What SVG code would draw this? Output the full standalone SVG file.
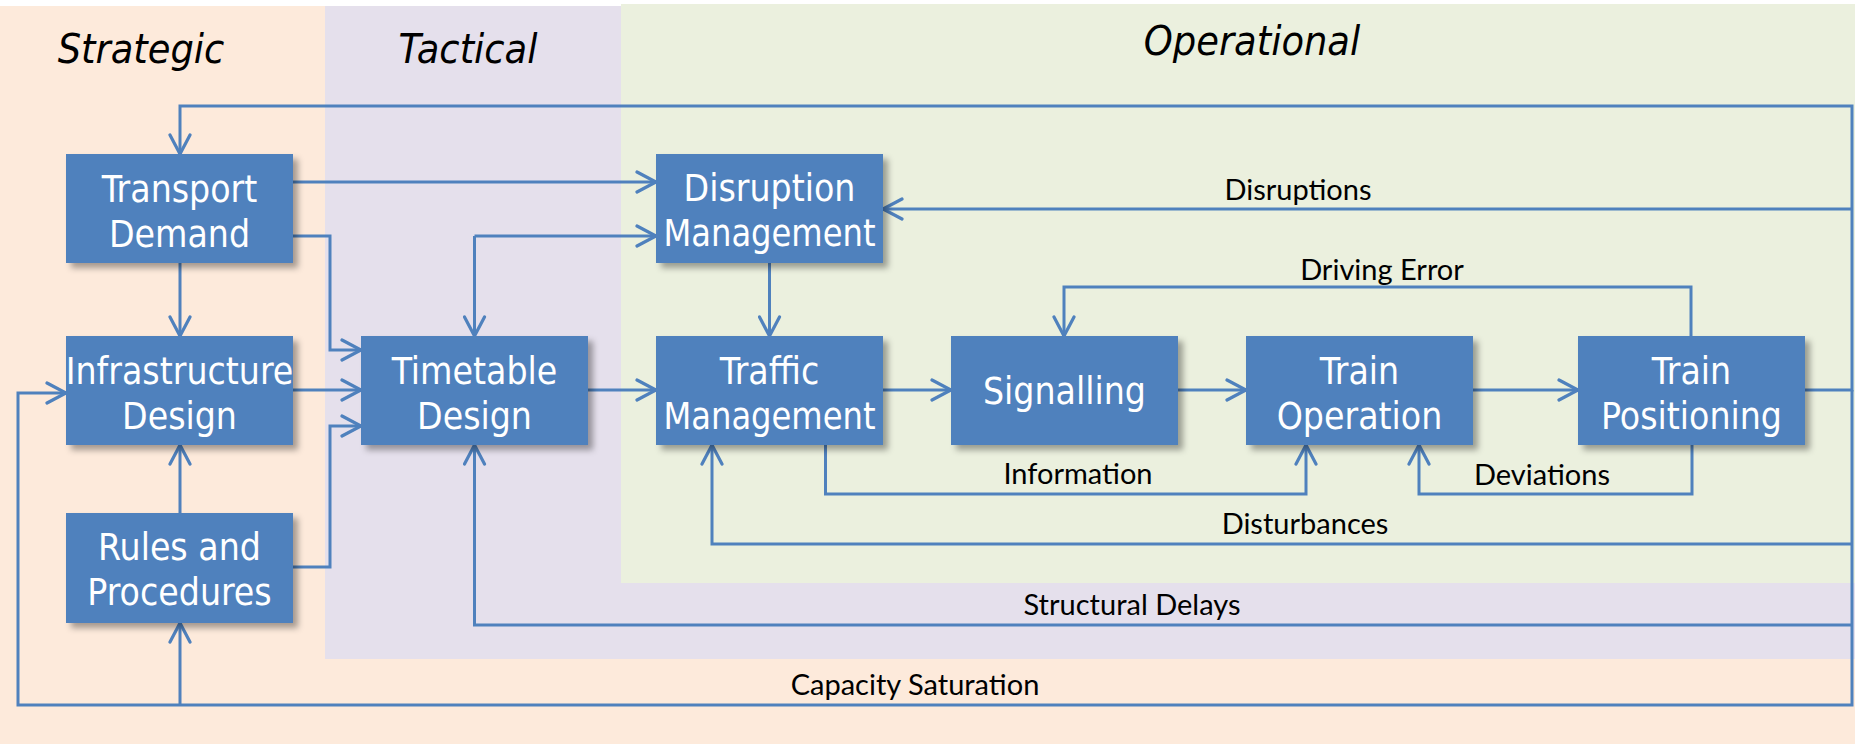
<svg xmlns="http://www.w3.org/2000/svg" width="1855" height="744" viewBox="0 0 1855 744">
<defs>
<style>
.box{fill:#4F81BD;filter:url(#sh)}
.bt{fill:#fff;font-family:"DejaVu Sans Condensed","DejaVu Sans",sans-serif;font-stretch:condensed;font-size:37px;text-anchor:middle}
.hd{fill:#000;font-family:"DejaVu Sans Condensed","DejaVu Sans",sans-serif;font-stretch:condensed;font-style:italic;font-size:41px;text-anchor:middle}
.lb{fill:#000;font-family:Lato,"Open Sans",sans-serif;font-size:29px;text-anchor:middle}
.cn path{fill:none;stroke:#4F81BD;stroke-width:3}
.ar{marker-end:url(#ah)}
</style>
<filter id="sh" x="-10%" y="-10%" width="130%" height="130%">
<feDropShadow dx="5" dy="5" stdDeviation="3" flood-color="#000" flood-opacity="0.35"/>
</filter>
<marker id="ah" markerUnits="userSpaceOnUse" viewBox="-22 -12 24 24" refX="0" refY="0" markerWidth="24" markerHeight="24" orient="auto">
<path d="M-19,-10 L0,0 L-19,10" fill="none" stroke="#4F81BD" stroke-width="3.2" stroke-linecap="round" stroke-linejoin="miter"/>
</marker>
</defs>
<rect x="0" y="0" width="1855" height="744" fill="#fff"/>
<g id="regions">
<rect x="0" y="6" width="1855" height="738" fill="#FDEADB"/>
<rect x="325" y="6" width="1530" height="653" fill="#E5E0EC"/>
<rect x="621" y="4" width="1234" height="579" fill="#EBF0DE"/>
<text class="hd" x="141" y="63">Strategic</text>
<text class="hd" x="468" y="63">Tactical</text>
<text class="hd" x="1252" y="55">Operational</text>
</g>
<g id="connectors" class="cn">
<path d="M1805,390 H1852 V106 H180 V154" class="ar"/>
<path d="M1852,209 H883" class="ar"/>
<path d="M1852,390 V705 H18 V393 H66" class="ar"/>
<path d="M180,705 V623" class="ar"/>
<path d="M1852,544 H712 V445" class="ar"/>
<path d="M1852,625 H474.5 V445" class="ar"/>
<path d="M293,182 H656" class="ar"/>
<path d="M293,236 H330 V350 H361" class="ar"/>
<path d="M474.5,236 H656" class="ar"/>
<path d="M474.5,236 V336" class="ar"/>
<path d="M180,263 V336" class="ar"/>
<path d="M293,390 H361" class="ar"/>
<path d="M180,513 V445" class="ar"/>
<path d="M293,567 H330 V426 H361" class="ar"/>
<path d="M769.5,263 V336" class="ar"/>
<path d="M588,390 H656" class="ar"/>
<path d="M883,390 H951" class="ar"/>
<path d="M1177,390 H1246" class="ar"/>
<path d="M1473,390 H1578" class="ar"/>
<path d="M1691,336 V287 H1064 V336" class="ar"/>
<path d="M825.5,445 V494 H1306 V445" class="ar"/>
<path d="M1692,445 V494 H1419 V445" class="ar"/>
<text class="lb" x="1298" y="200">Disruptions</text>
<text class="lb" x="1382" y="280">Driving Error</text>
<text class="lb" x="1078" y="484">Information</text>
<text class="lb" x="1542" y="485">Deviations</text>
<text class="lb" x="1305" y="534">Disturbances</text>
<text class="lb" x="1132" y="615">Structural Delays</text>
<text class="lb" x="915" y="695">Capacity Saturation</text>
</g>
<g id="transport-demand">
<rect class="box" x="66" y="154" width="227" height="109"/>
<text class="bt" x="179.5" y="202">Transport</text>
<text class="bt" x="179.5" y="247">Demand</text>
</g>
<g id="infrastructure-design">
<rect class="box" x="66" y="336" width="227" height="109"/>
<text class="bt" x="179.5" y="384">Infrastructure</text>
<text class="bt" x="179.5" y="429">Design</text>
</g>
<g id="rules-procedures">
<rect class="box" x="66" y="513" width="227" height="110"/>
<text class="bt" x="179.5" y="560">Rules and</text>
<text class="bt" x="179.5" y="605">Procedures</text>
</g>
<g id="timetable-design">
<rect class="box" x="361" y="336" width="227" height="109"/>
<text class="bt" x="474.5" y="384">Timetable</text>
<text class="bt" x="474.5" y="429">Design</text>
</g>
<g id="disruption-management">
<rect class="box" x="656" y="154" width="227" height="109"/>
<text class="bt" x="769.5" y="201">Disruption</text>
<text class="bt" x="769.5" y="246" textLength="212" lengthAdjust="spacingAndGlyphs">Management</text>
</g>
<g id="traffic-management">
<rect class="box" x="656" y="336" width="227" height="109"/>
<text class="bt" x="769.5" y="384">Traffic</text>
<text class="bt" x="769.5" y="429" textLength="212" lengthAdjust="spacingAndGlyphs">Management</text>
</g>
<g id="signalling">
<rect class="box" x="951" y="336" width="227" height="109"/>
<text class="bt" x="1064.5" y="404">Signalling</text>
</g>
<g id="train-operation">
<rect class="box" x="1246" y="336" width="227" height="109"/>
<text class="bt" x="1359.5" y="384">Train</text>
<text class="bt" x="1359.5" y="429">Operation</text>
</g>
<g id="train-positioning">
<rect class="box" x="1578" y="336" width="227" height="109"/>
<text class="bt" x="1691.5" y="384">Train</text>
<text class="bt" x="1691.5" y="429">Positioning</text>
</g>
</svg>
